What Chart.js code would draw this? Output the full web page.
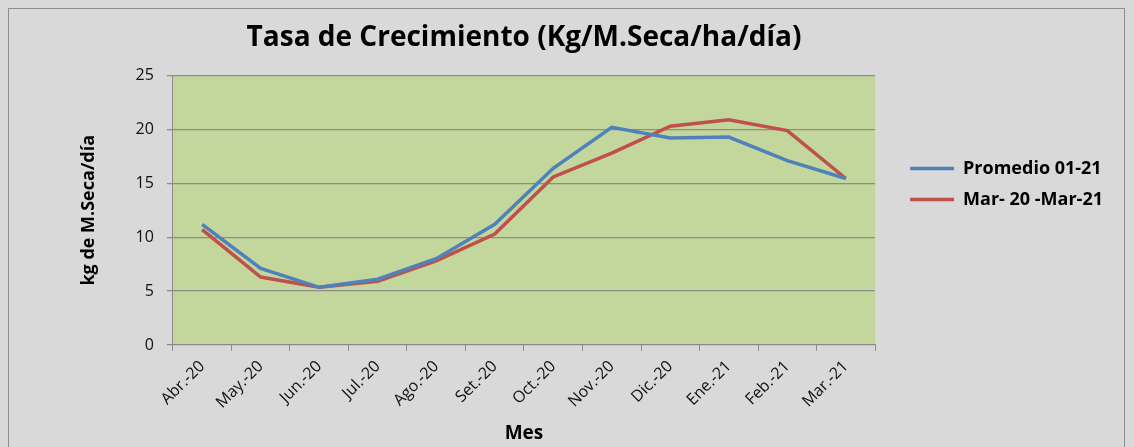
<!DOCTYPE html>
<html>
<head>
<meta charset="utf-8">
<script src="https://cdn.jsdelivr.net/npm/chart.js@4"></script>
<style>
  html, body { margin: 0; padding: 0; background: #d9d9d9; }
  #wrap { position: absolute; left: 8px; top: 8px; width: 1117px; height: 450px; border: 1px solid #8e8e8e; box-sizing: border-box; }
  #growthChart { display: block; }
</style>
</head>
<body>
<div id="wrap"><canvas id="growthChart" width="1115" height="438"></canvas></div>
<script>
// meses (eje x)
const MONTHS = ['Abr.-20', 'May.-20', 'Jun.-20', 'Jul.-20', 'Ago.-20', 'Set.-20',
                'Oct.-20', 'Nov.-20', 'Dic.-20', 'Ene.-21', 'Feb.-21', 'Mar.-21'];

// tasa de crecimiento, kg M.Seca/ha/día
const PROMEDIO = [11.2, 7.1, 5.35, 6.1, 8.0, 11.2, 16.4, 20.2, 19.2, 19.3, 17.1, 15.45];
const MAR20_MAR21 = [10.7, 6.3, 5.35, 5.9, 7.8, 10.3, 15.6, 17.8, 20.3, 20.9, 19.9, 15.45];

const SERIES_NAMES = ['Promedio 01-21', 'Mar- 20 -Mar-21'];
const Y_TICKS = [0, 5, 10, 15, 20, 25];

const FONT = '"Open Sans", "DejaVu Sans", sans-serif';

// fondo verde del area de trazado
const plotBg = {
    id: 'plotBg',
    beforeDraw(chart) {
        const a = chart.chartArea;
        const ctx = chart.ctx;
        ctx.save();
        ctx.fillStyle = '#c3d69b';
        ctx.fillRect(a.left, a.top, a.right - a.left, a.bottom - a.top);
        ctx.restore();
    }
};

// leyenda un poco separada del area y mas arriba (como en Excel)
const legendPos = {
    id: 'legendPos',
    afterLayout(chart) {
        const L = chart.legend;
        if (!L) return;
        const w = L.right - L.left;
        const h = L.bottom - L.top;
        L.left = chart.chartArea.right + 22;
        L.right = L.left + w;
        L.top = 175 - h / 2;
        L.bottom = L.top + h;
    }
};

const ctx = document.getElementById('growthChart').getContext('2d');
new Chart(ctx, {
    type: 'line',
    data: {
        labels: MONTHS,
        datasets: [
            { label: SERIES_NAMES[0], data: PROMEDIO, borderColor: '#4f81bd', backgroundColor: '#4f81bd', borderWidth: 3.5, pointRadius: 0, tension: 0 },
            { label: SERIES_NAMES[1], data: MAR20_MAR21, borderColor: '#c0504d', backgroundColor: '#c0504d', borderWidth: 3.5, pointRadius: 0, tension: 0 }
        ]
    },
    options: {
        responsive: false,
        animation: false,
        layout: { padding: { left: 65, right: 33, top: 4, bottom: 2 } },
        plugins: {
            title: {
                display: true,
                text: 'Tasa de Crecimiento (Kg/M.Seca/ha/día)',
                color: '#000',
                fullSize: false,
                font: { family: FONT, size: 28, weight: 'bold' },
                padding: { top: 8, bottom: 21 }
            },
            legend: {
                position: 'right',
                labels: {
                    usePointStyle: true,
                    pointStyle: 'line',
                    pointStyleWidth: 44,
                    boxWidth: 44,
                    padding: 13,
                    color: '#000',
                    font: { family: FONT, size: 18, weight: 'bold' }
                }
            },
            tooltip: { enabled: false }
        },
        scales: {
            x: {
                offset: true,
                border: { color: '#8c8c8c', width: 1 },
                grid: { offset: true, drawOnChartArea: false, drawTicks: true, tickLength: 6, color: '#8c8c8c' },
                ticks: { color: '#111', padding: 6, maxRotation: 45, minRotation: 45, font: { family: FONT, size: 16 } },
                title: { display: true, text: 'Mes', color: '#000', font: { family: FONT, size: 19, weight: 'bold' }, padding: { top: 4, bottom: 0 } }
            },
            y: {
                min: 0,
                max: 25,
                afterBuildTicks(axis) { axis.ticks = Y_TICKS.map(v => ({ value: v })); },
                border: { color: '#8c8c8c', width: 1 },
                grid: { color: '#8c8c8c', lineWidth: 1.3, tickLength: 6 },
                ticks: { color: '#111', padding: 13, font: { family: FONT, size: 16 } },
                title: { display: true, text: 'kg de M.Seca/día', color: '#000', font: { family: FONT, size: 18, weight: 'bold' }, padding: { bottom: 23 } }
            }
        }
    },
    plugins: [plotBg, legendPos]
});
</script>
</body>
</html>
